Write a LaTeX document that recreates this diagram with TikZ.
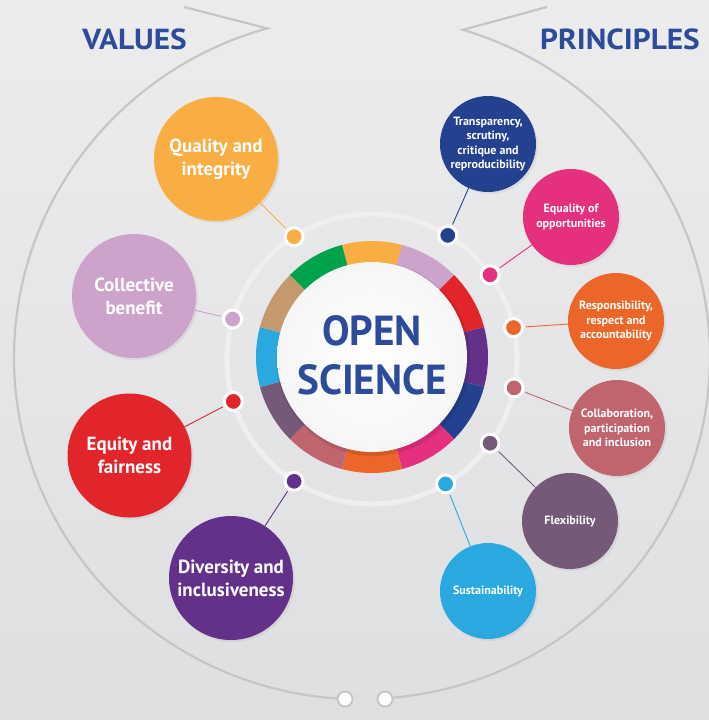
\documentclass[tikz,border=0pt]{standalone}
\usepackage{fontspec}
\setmainfont{PT Sans}
\usetikzlibrary{shadows,calc}
\definecolor{cQual}{HTML}{F8AE42}
\definecolor{cLilac}{HTML}{CDA3CB}
\definecolor{cRed}{HTML}{E2252A}
\definecolor{cPurple}{HTML}{63318A}
\definecolor{cDBlue}{HTML}{24418F}
\definecolor{cMagenta}{HTML}{E4307D}
\definecolor{cOrange}{HTML}{EB6628}
\definecolor{cRose}{HTML}{C0646E}
\definecolor{cMauve}{HTML}{755A78}
\definecolor{cLBlue}{HTML}{2AA9E0}
\definecolor{cTan}{HTML}{C4996D}
\definecolor{cGreen}{HTML}{00A24C}
\definecolor{cText}{HTML}{2C4B9B}
\definecolor{cArc}{HTML}{C6C6C8}
\definecolor{cRing}{HTML}{EFEFF1}
\definecolor{bgTop}{HTML}{ECECED}
\definecolor{bgBot}{HTML}{DEDFE1}
\tikzset{
  bigc/.style={circle, minimum size=124pt, inner sep=0pt, text=white, align=center,
    font=\bfseries\fontsize{19}{23}\selectfont,
    drop shadow={opacity=0.12, shadow xshift=2pt, shadow yshift=-2pt}},
  smallc/.style={circle, minimum size=96pt, inner sep=0pt, text=white, align=center,
    font=\bfseries\fontsize{12}{14.5}\selectfont,
    drop shadow={opacity=0.12, shadow xshift=2pt, shadow yshift=-2pt}},
  dotc/.style={circle, minimum size=18pt, inner sep=0pt, draw=white, line width=3pt,
    drop shadow={opacity=0.12, shadow xshift=1pt, shadow yshift=-1pt}},
  conn/.style={line width=0.9pt, shorten <=1.5pt},
  endc/.style={circle, minimum size=15pt, inner sep=0pt, draw=cArc, line width=2pt, fill=white},
  grayarc/.style={draw=cArc, line width=2.2pt},
  headline/.style={text=cText, font=\bfseries\fontsize{29}{30}\selectfont, inner sep=0pt}
}
\begin{document}
\begin{tikzpicture}[x=1pt,y=-1pt]
\useasboundingbox (0,0) rectangle (709,720);
\shade[top color=bgTop, bottom color=bgBot] (0,0) rectangle (709,720);

% outer gray arcs with chevron ends
\draw[grayarc] (345,699) arc[start angle=92.8, end angle=254.2, x radius=348, y radius=342] -- (184,7);
\draw[grayarc] (547,7) -- (463,29.8) arc[start angle=-73.1, end angle=86.2, x radius=348, y radius=342];
\node[endc] (e1) at (345,699) {};
\node[endc] (e2) at (385,699) {};

% headings
\node[headline] (vals) at (134.5,39) {\scalebox{1.08}[1]{VALUES}};
\node[headline] (prins) at (620,39) {\scalebox{1.08}[1]{PRINCIPLES}};

% light ring
\coordinate (ctr) at (372,359);
\draw[cRing, line width=5pt] (ctr) circle[radius=145];

% coloured ring
\foreach \a/\c in {-90/cQual,-60/cLilac,-30/cRed,0/cPurple,30/cDBlue,60/cMagenta,
                   90/cOrange,120/cRose,150/cMauve,180/cLBlue,210/cTan,240/cGreen}{
  \fill[\c] (372,357) ++(\a-15:116) arc[start angle=\a-15, end angle=\a+15, radius=116]
     -- ++(\a+15:-22) arc[start angle=\a+15, end angle=\a-15, radius=94] -- cycle;
}
% white centre
\fill[black, opacity=0.10] (373.5,359) circle[radius=97];
\shade[inner color=white, outer color=white!93!gray] (372,357) circle[radius=95];
\node[text=cText, font=\bfseries\fontsize{42}{49}\selectfont, align=center, inner sep=0pt]
  (os) at (372,355) {\scalebox{0.98}[1]{OPEN}\\\scalebox{0.98}[1]{SCIENCE}};

% dots on the ring
\node[dotc, fill=cQual]    (dq) at ($(ctr)+(-122.5:145)$) {};
\node[dotc, fill=cLilac]   (dl) at ($(ctr)+(-164:145)$) {};
\node[dotc, fill=cRed]     (dr) at ($(ctr)+(163:145)$) {};
\node[dotc, fill=cPurple]  (dp) at ($(ctr)+(122.5:145)$) {};
\node[dotc, fill=cDBlue]   (pd) at ($(ctr)+(-58.5:145)$) {};
\node[dotc, fill=cMagenta] (pm) at ($(ctr)+(-35.5:145)$) {};
\node[dotc, fill=cOrange]  (po) at ($(ctr)+(-12.5:145)$) {};
\node[dotc, fill=cRose]    (pr) at ($(ctr)+(11.5:145)$) {};
\node[dotc, fill=cMauve]   (pv) at ($(ctr)+(35.5:145)$) {};
\node[dotc, fill=cLBlue]   (pb) at ($(ctr)+(59.5:145)$) {};

% value circles
\node[bigc, fill=cQual]   (Q) at (216,159) {Quality and\\integrity};
\node[bigc, fill=cLilac]  (L) at (134,296) {Collective\\benefit};
\node[bigc, fill=cRed]    (R) at (129.5,455.5) {Equity and\\fairness};
\node[bigc, fill=cPurple] (P) at (231,578) {Diversity and\\inclusiveness};

% principle circles
\node[smallc, fill=cDBlue]   (T) at (488,144) {Transparency,\\scrutiny,\\critique and\\reproducibility};
\node[smallc, fill=cMagenta] (M) at (571,217) {Equality of\\opportunities};
\node[smallc, fill=cOrange]  (O) at (616,321) {Responsibility,\\respect and\\accountability};
\node[smallc, fill=cRose]    (C) at (617,428) {Collaboration,\\participation\\and inclusion};
\node[smallc, fill=cMauve]   (F) at (570,521) {Flexibility};
\node[smallc, fill=cLBlue]   (S) at (488,591) {Sustainability};

% connectors
\draw[conn, cQual] (dq) -- (Q);
\draw[conn, cLilac] (dl) -- (L);
\draw[conn, cRed] (dr) -- (R);
\draw[conn, cPurple] (dp) -- (P);
\draw[conn, cDBlue] (pd) -- (T);
\draw[conn, cMagenta] (pm) -- (M);
\draw[conn, cOrange] (po) -- (O);
\draw[conn, cRose] (pr) -- (C);
\draw[conn, cMauve] (pv) -- (F);
\draw[conn, cLBlue] (pb) -- (S);
\end{tikzpicture}
\end{document}
